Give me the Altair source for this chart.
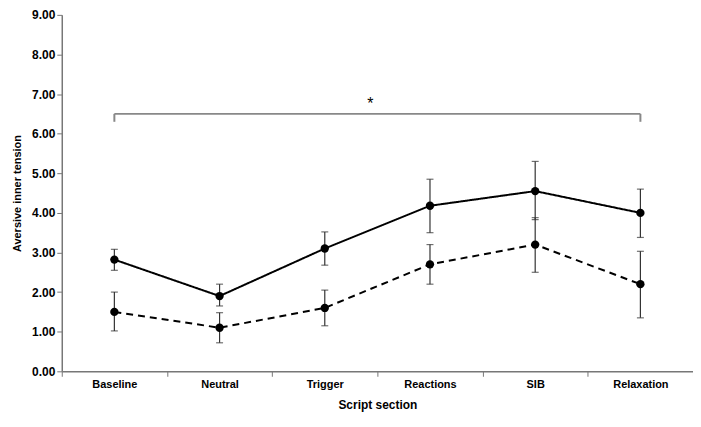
import altair as alt
import pandas as pd

sections = ["Baseline", "Neutral", "Trigger", "Reactions", "SIB", "Relaxation"]

solid_mean = [2.82, 1.90, 3.10, 4.18, 4.55, 4.00]
solid_low = [2.55, 1.65, 2.68, 3.50, 3.83, 3.38]
solid_high = [3.08, 2.20, 3.52, 4.85, 5.30, 4.60]

dashed_mean = [1.50, 1.10, 1.60, 2.70, 3.20, 2.20]
dashed_low = [1.02, 0.72, 1.15, 2.20, 2.50, 1.35]
dashed_high = [2.00, 1.48, 2.05, 3.20, 3.88, 3.03]

groups = ["A", "B"]

rows = []
for i, s in enumerate(sections):
    rows.append({"section": s, "group": "A", "mean": solid_mean[i], "low": solid_low[i], "high": solid_high[i]})
    rows.append({"section": s, "group": "B", "mean": dashed_mean[i], "low": dashed_low[i], "high": dashed_high[i]})
df = pd.DataFrame(rows)

bracket_y = 6.5
bracket_drop = 6.3
bracket_df = pd.DataFrame({"section": ["Baseline", "Relaxation"], "y": [bracket_y, bracket_y], "y2": [bracket_drop, bracket_drop]})
star_df = pd.DataFrame({"y": [6.75], "t": ["*"]})

font = "Liberation Sans"

xaxis = alt.Axis(tickBand="extent", labelAngle=0, labelAlign="center", domainColor="#777", tickColor="#777",
                 labelFont=font, labelFontWeight="bold", labelFontSize=11, labelColor="#000",
                 titleFont=font, titleFontWeight="bold", titleFontSize=12, titleColor="#000",
                 titlePadding=10, labelPadding=2, tickSize=5, grid=False, domainWidth=1.5)
xscale = alt.Scale(domain=sections, paddingInner=0, paddingOuter=0)
yaxis = alt.Axis(values=list(range(10)), format=".2f", domainColor="#777", tickColor="#777",
                 labelFont=font, labelFontWeight="bold", labelFontSize=12, labelColor="#000",
                 titleFont=font, titleFontWeight="bold", titleFontSize=11, titleColor="#000",
                 tickSize=5, grid=False, titlePadding=9, labelOverlap=False, domainWidth=1.5)
yscale = alt.Scale(domain=[0, 9], nice=False)


def X():
    return alt.X("section:N", sort=sections, scale=xscale, axis=xaxis, title="Script section")


def Y(field):
    return alt.Y(field, scale=yscale, axis=yaxis, title="Aversive inner tension")


base = alt.Chart(df)

lines = base.mark_line(color="black", strokeWidth=2).encode(
    x=X(), y=Y("mean:Q"),
    strokeDash=alt.StrokeDash("group:N", scale=alt.Scale(domain=groups, range=[[1, 0], [7, 5]]), legend=None),
    detail="group:N",
)
rules = base.mark_rule(color="#333", strokeWidth=1.2).encode(x=X(), y=Y("low:Q"), y2="high:Q")
caps_low = base.mark_tick(color="#333", size=7, thickness=1.2, orient="horizontal").encode(x=X(), y=Y("low:Q"))
caps_high = base.mark_tick(color="#333", size=7, thickness=1.2, orient="horizontal").encode(x=X(), y=Y("high:Q"))
points = base.mark_point(filled=True, color="black", size=70, opacity=1).encode(x=X(), y=Y("mean:Q"))

bracket_h = alt.Chart(bracket_df).mark_line(color="#888", strokeWidth=2).encode(x=X(), y=Y("y:Q"))
bracket_v = alt.Chart(bracket_df).mark_rule(color="#888", strokeWidth=2).encode(x=X(), y=Y("y:Q"), y2="y2:Q")
star = alt.Chart(star_df).mark_text(fontSize=16, font=font, color="black").encode(
    x=alt.value(310), y=Y("y:Q"), text="t:N")

chart = alt.layer(bracket_h, bracket_v, star, lines, rules, caps_low, caps_high, points).properties(
    width=634, height=358,
    autosize=alt.AutoSizeParams(type="none"),
    padding={"left": 54, "top": 6, "right": 0, "bottom": 45},
    background="white",
).configure_view(strokeWidth=0, stroke="transparent")

chart.save("out.html", embed_options={"renderer": "svg", "actions": False})
